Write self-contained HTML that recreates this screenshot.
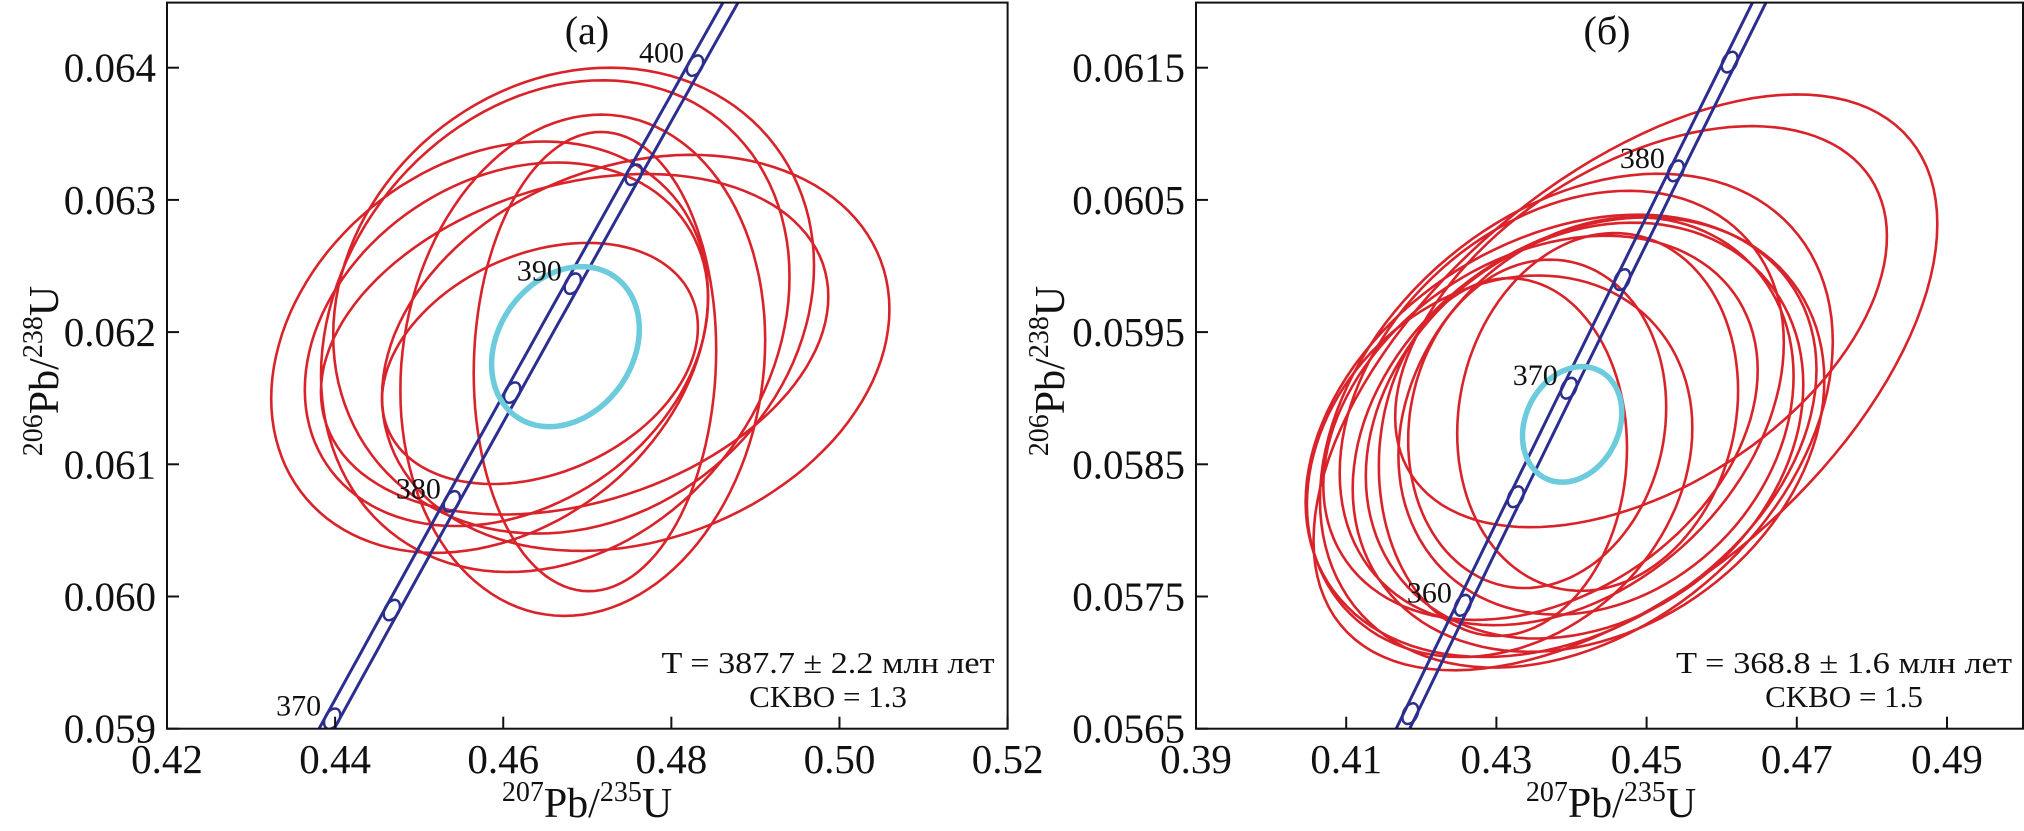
<!DOCTYPE html>
<html><head><meta charset="utf-8"><style>
html,body{margin:0;padding:0;background:#fff;width:2024px;height:831px;overflow:hidden;}
svg{display:block;font-family:"Liberation Serif","DejaVu Serif",serif;}
</style></head><body>
<svg id="chart" width="2024" height="831" viewBox="0 0 2024 831" xmlns="http://www.w3.org/2000/svg">
<defs>
<clipPath id="clipA"><rect x="167" y="2.6" width="840.6" height="726.1"/></clipPath>
<clipPath id="clipB"><rect x="1196" y="2.6" width="827" height="726.1"/></clipPath>
</defs>
</svg>
<script>
// ---- Panel (a) data ----
const aXTicks = [0.42, 0.44, 0.46, 0.48, 0.50, 0.52];
const aXTickLabels = ["0.42", "0.44", "0.46", "0.48", "0.50", "0.52"];
const aYTicks = [0.059, 0.060, 0.061, 0.062, 0.063, 0.064];
const aYTickLabels = ["0.059", "0.060", "0.061", "0.062", "0.063", "0.064"];
const aCx = [0.45838, 0.46837, 0.46619, 0.46946, 0.47091, 0.47576, 0.46038, 0.46849, 0.46437];
const aCy = [0.061886, 0.062238, 0.062045, 0.061749, 0.061777, 0.061843, 0.061908, 0.061908, 0.061763];
const aSx = [0.02598, 0.02860, 0.02787, 0.02170, 0.01442, 0.03018, 0.02399, 0.03018, 0.01879];
const aSy = [0.001556, 0.001762, 0.00186, 0.001896, 0.001737, 0.001498, 0.001375, 0.001288, 0.000912];
const aRho = [0.25, 0.15, 0.2, 0.1, 0.05, 0.22, 0.25, 0.28, 0.3];
const aMean = [0.4674, 0.06189, 0.00879, 0.000605, 0.22];
const aAges = [370, 375, 380, 385, 390, 395, 400];
const aAgeLabels = ["370", "", "380", "", "390", "", "400"];
const aResultLine1 = "T = 387.7 ± 2.2 млн лет";
const aResultLine2 = "CKBO = 1.3";

// ---- Panel (б) data ----
const bXTicks = [0.39, 0.41, 0.43, 0.45, 0.47, 0.49];
const bXTickLabels = ["0.39", "0.41", "0.43", "0.45", "0.47", "0.49"];
const bYTicks = [0.0565, 0.0575, 0.0585, 0.0595, 0.0605, 0.0615];
const bYTickLabels = ["0.0565", "0.0575", "0.0585", "0.0595", "0.0605", "0.0615"];
const bCx = [0.44718, 0.44926, 0.44065, 0.43861, 0.44226, 0.44174, 0.43587, 0.44326, 0.43543, 0.43087, 0.43043, 0.44348, 0.43870];
const bCy = [0.05912, 0.059541, 0.05883, 0.058715, 0.058725, 0.058755, 0.058776, 0.058866, 0.058806, 0.058555, 0.058485, 0.058896, 0.058926];
const bSx = [0.04153, 0.03274, 0.03414, 0.03401, 0.0314, 0.02913, 0.02892, 0.02631, 0.01718, 0.01652, 0.02566, 0.0187, 0.02957];
const bSy = [0.002178, 0.001517, 0.001868, 0.001673, 0.001643, 0.001573, 0.001453, 0.001503, 0.001242, 0.001353, 0.001443, 0.001353, 0.001643];
const bRho = [0.55, 0.45, 0.32, 0.3, 0.25, 0.22, 0.3, 0.2, 0.1, 0.05, 0.2, 0.12, 0.3];
const bMean = [0.44009, 0.058802, 0.00661, 0.000437, 0.2];
const bAges = [355, 360, 365, 370, 375, 380, 385];
const bAgeLabels = ["", "360", "", "370", "", "380", ""];
const bResultLine1 = "T = 368.8 ± 1.6 млн лет";
const bResultLine2 = "CKBO = 1.5";

const NS = "http://www.w3.org/2000/svg";
const svg = document.getElementById("chart");
function mk(tag, attrs, parent) {
  const e = document.createElementNS(NS, tag);
  for (const k in attrs) e.setAttribute(k, attrs[k]);
  (parent || svg).appendChild(e);
  return e;
}
const L235 = 9.8485e-4, L238 = 1.55125e-4;
function cx235(t) { return Math.exp(L235 * t) - 1; }
function cy238(t) { return Math.exp(L238 * t) - 1; }

function panel(p) {
  const g = mk("g", {});
  
  
  const X = v => p.x0 + (v - p.xmin) / (p.xmax - p.xmin) * (p.x1 - p.x0);
  const Y = v => p.y0 - (v - p.ymin) / (p.ymax - p.ymin) * (p.y0 - p.y1);
  const plot = mk("g", {"clip-path": "url(#" + p.clip + ")"}, g);
  
  

  function ellPath(cx, cy, sx, sy, rho) {
    let d = "";
    const s = Math.sqrt(1 - rho * rho);
    for (let i = 0; i <= 120; i++) {
      const t = i / 120 * 2 * Math.PI;
      const px = X(cx + sx * Math.cos(t));
      const py = Y(cy + sy * (rho * Math.cos(t) + s * Math.sin(t)));
      d += (i ? "L" : "M") + px.toFixed(1) + "," + py.toFixed(1);
    }
    return d + "Z";
  }
  for (let i = 0; i < p.cx.length; i++) {
    const e = mk("path", {d: ellPath(p.cx[i], p.cy[i], p.sx[i], p.sy[i], p.rho[i]), fill: "none", stroke: "#d9232a", "stroke-width": 2.6}, plot);
    
    
  }
  [-0.0009, 0.0009].forEach(off => {
    let d = "";
    for (let t = 300; t <= 460; t += 1) {
      d += (t === 300 ? "M" : "L") + X(cx235(t) + off).toFixed(1) + "," + Y(cy238(t)).toFixed(1);
    }
    const l = mk("path", {d: d, fill: "none", stroke: "#2b2e8e", "stroke-width": 3}, plot);
    
    
  });
  for (let i = 0; i < p.ages.length; i++) {
    const t = p.ages[i];
    const mx = X(cx235(t)), my = Y(cy238(t));
    const ang = Math.atan2(Y(cy238(t + 1)) - my, X(cx235(t + 1)) - mx) * 180 / Math.PI;
    const m = mk("ellipse", {cx: mx, cy: my, rx: 11, ry: 7, fill: "none", stroke: "#2b2e8e", "stroke-width": 2.5, transform: "rotate(" + ang.toFixed(1) + " " + mx.toFixed(1) + " " + my.toFixed(1) + ")"}, plot);
    
    
    if (p.ageLabels[i]) {
      const tx = mk("text", {x: mx - 11, y: my - 3, "text-anchor": "end", "font-size": 30, fill: "#111"}, g);
      tx.textContent = p.ageLabels[i];
      
      
    }
  }
  const me = mk("path", {d: ellPath(p.mean[0], p.mean[1], p.mean[2], p.mean[3], p.mean[4]), fill: "none", stroke: "#6ccbdc", "stroke-width": 5.5}, plot);
  
  

  const fr = mk("rect", {x: p.x0, y: p.y1, width: p.x1 - p.x0, height: p.y0 - p.y1, fill: "none", stroke: "#111", "stroke-width": 2}, g);
  
  
  for (let i = 0; i < p.xt.length; i++) {
    const x = X(p.xt[i]);
    const tk = mk("line", {x1: x, x2: x, y1: p.y0, y2: p.y0 - 12, stroke: "#111", "stroke-width": 2}, g);
    
    
    const lb = mk("text", {x: x, y: 773, "text-anchor": "middle", "font-size": 41, fill: "#111"}, g);
    lb.textContent = p.xtl[i];
    
    
  }
  for (let i = 0; i < p.yt.length; i++) {
    const y = Y(p.yt[i]);
    const tk = mk("line", {x1: p.x0, x2: p.x0 + 12, y1: y, y2: y, stroke: "#111", "stroke-width": 2}, g);
    
    
    const lb = mk("text", {x: p.x0 - 11, y: y + 14, "text-anchor": "end", "font-size": 41, fill: "#111"}, g);
    lb.textContent = p.ytl[i];
    
    
  }
  const xt = mk("text", {x: p.xTitleX, y: 817, "text-anchor": "middle", "font-size": 42, fill: "#111"}, g);
  xt.innerHTML = '<tspan font-size="28" dy="-16">207</tspan><tspan dy="16">Pb/</tspan><tspan font-size="28" dy="-16">235</tspan><tspan dy="16">U</tspan>';
  
  
  const yt = mk("text", {x: 0, y: 0, "text-anchor": "middle", "font-size": 42, fill: "#111", transform: "translate(" + p.yTitleX + ",371) rotate(-90)"}, g);
  yt.innerHTML = '<tspan font-size="28" dy="-16">206</tspan><tspan dy="16">Pb/</tspan><tspan font-size="28" dy="-16">238</tspan><tspan dy="16">U</tspan>';
  
  
  const pt = mk("text", {x: p.titleX, y: 44, "text-anchor": "middle", "font-size": 40, fill: "#111"}, g);
  pt.textContent = p.title;
  
  
  const r1 = mk("text", {x: p.resX, y: 673, "text-anchor": "middle", "font-size": 31, fill: "#111", textLength: p.resW, lengthAdjust: "spacingAndGlyphs"}, g);
  r1.textContent = p.res1;
  
  
  const r2 = mk("text", {x: p.resX, y: 707, "text-anchor": "middle", "font-size": 31, fill: "#111"}, g);
  r2.textContent = p.res2;
  
  
}

panel({name: "panel-a", clip: "clipA", x0: 167, x1: 1007.6, y0: 728.7, y1: 2.6,
  xmin: 0.42, xmax: 0.52, ymin: 0.059, ymax: 0.059 + 726.1 / 132.2 * 0.001,
  xt: aXTicks, xtl: aXTickLabels, yt: aYTicks, ytl: aYTickLabels,
  cx: aCx, cy: aCy, sx: aSx, sy: aSy, rho: aRho, mean: aMean,
  ages: aAges, ageLabels: aAgeLabels, res1: aResultLine1, res2: aResultLine2,
  resX: 828, resW: 333, xTitleX: 587, yTitleX: 58, titleX: 587, title: "(a)"});
panel({name: "panel-b", clip: "clipB", x0: 1196, x1: 2023, y0: 728.7, y1: 2.6,
  xmin: 0.39, xmax: 0.39 + 827 / 75.1 * 0.01, ymin: 0.0565, ymax: 0.0565 + 726.1 / 132.2 * 0.001,
  xt: bXTicks, xtl: bXTickLabels, yt: bYTicks, ytl: bYTickLabels,
  cx: bCx, cy: bCy, sx: bSx, sy: bSy, rho: bRho, mean: bMean,
  ages: bAges, ageLabels: bAgeLabels, res1: bResultLine1, res2: bResultLine2,
  resX: 1844, resW: 336, xTitleX: 1611, yTitleX: 1064, titleX: 1607, title: "(б)"});
</script>
</body></html>
